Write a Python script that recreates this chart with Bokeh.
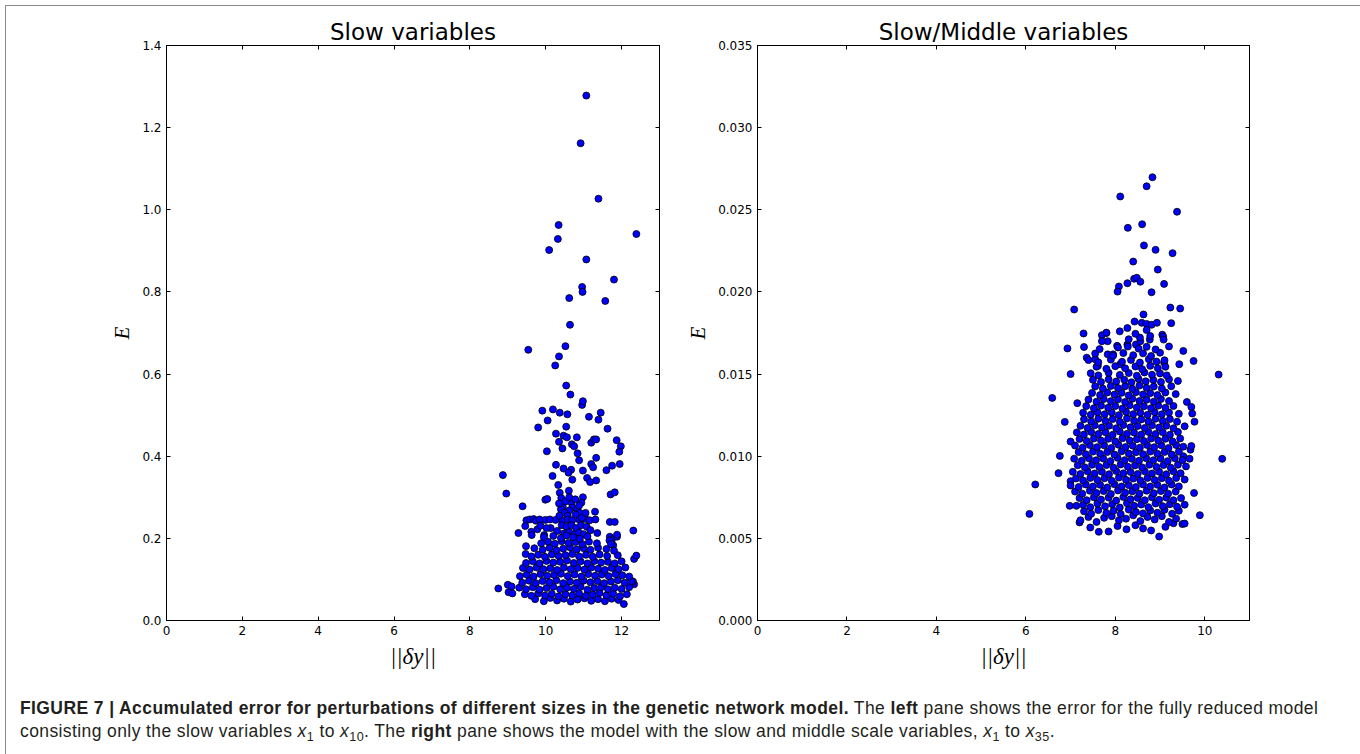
from bokeh.plotting import figure
from bokeh.models import Range1d, FixedTicker, LinearAxis, PrintfTickFormatter, Div, ColumnDataSource
from bokeh.layouts import row, column
from bokeh.embed import file_html
from bokeh.resources import INLINE

# ---------------- data ----------------
LEFT_TITLE = "Slow variables"
RIGHT_TITLE = "Slow/Middle variables"
X_LABEL = "||\u03b4y||"
Y_LABEL = "E"
LEFT_XTICKS = [0, 2, 4, 6, 8, 10, 12]
LEFT_YTICKS = [0.0, 0.2, 0.4, 0.6, 0.8, 1.0, 1.2, 1.4]
RIGHT_XTICKS = [0, 2, 4, 6, 8, 10]
RIGHT_YTICKS = [0.000, 0.005, 0.010, 0.015, 0.020, 0.025, 0.030, 0.035]
LEFT_XRANGE = (0, 13)
LEFT_YRANGE = (0, 1.4)
RIGHT_XRANGE = (0, 11)
RIGHT_YRANGE = (0, 0.035)

# left pane: sparse upper points
LEFT_UPPER = [
    (11.07, 1.278), (10.92, 1.162), (11.39, 1.027), (10.34, 0.963), (12.39, 0.941), (10.32, 0.929),
    (10.09, 0.902), (11.07, 0.879), (11.80, 0.830), (10.96, 0.812), (10.97, 0.800), (10.62, 0.785),
    (11.57, 0.778), (10.64, 0.720), (9.54, 0.659), (10.52, 0.668), (10.35, 0.643), (10.25, 0.621),
    (10.54, 0.572), (10.65, 0.550), (10.96, 0.525), (10.98, 0.534), (9.91, 0.511), (10.19, 0.514),
    (10.37, 0.506), (10.57, 0.502), (10.05, 0.487), (11.14, 0.496), (11.39, 0.489), (11.45, 0.506),
    (9.80, 0.470), (10.54, 0.472), (11.63, 0.467), (10.27, 0.455), (10.47, 0.450), (10.56, 0.446),
    (10.82, 0.446), (10.35, 0.435), (10.69, 0.429), (10.75, 0.424), (11.20, 0.433), (11.27, 0.441),
    (11.33, 0.441), (10.44, 0.419), (11.87, 0.439), (11.98, 0.424), (11.94, 0.411), (10.03, 0.412),
    (10.84, 0.407), (10.88, 0.390), (11.33, 0.396), (11.20, 0.381), (11.25, 0.373), (11.95, 0.381),
    (11.75, 0.377), (11.60, 0.366), (10.27, 0.379), (10.47, 0.370), (10.67, 0.367), (10.60, 0.360),
    (10.98, 0.365), (11.09, 0.347), (11.17, 0.337), (11.33, 0.341), (10.70, 0.343), (10.18, 0.352),
    (8.87, 0.354), (8.96, 0.309), (10.33, 0.330), (10.37, 0.311), (10.61, 0.316), (10.41, 0.298),
    (10.98, 0.300), (10.94, 0.287), (9.99, 0.294), (10.04, 0.296), (11.71, 0.307), (11.82, 0.312),
    (9.39, 0.278), (10.45, 0.277), (10.68, 0.287), (10.70, 0.275), (10.40, 0.271), (10.62, 0.268),
    (10.83, 0.270), (10.90, 0.262), (10.79, 0.258), (11.30, 0.265), (10.50, 0.262), (10.58, 0.255),
    (9.49, 0.244), (9.58, 0.246), (9.68, 0.247), (9.74, 0.243), (9.84, 0.246), (9.99, 0.245),
    (10.11, 0.246), (10.26, 0.245), (10.44, 0.243), (10.58, 0.246), (10.70, 0.244), (10.89, 0.245),
    (11.05, 0.247), (11.16, 0.244), (11.31, 0.246), (9.46, 0.230), (9.28, 0.213), (9.62, 0.216),
    (9.63, 0.208), (9.96, 0.208), (10.13, 0.225), (11.69, 0.240), (11.82, 0.240), (12.31, 0.219),
    (11.36, 0.213), (11.69, 0.204), (11.75, 0.198), (11.88, 0.204), (11.68, 0.195), (11.78, 0.183),
    (9.48, 0.181), (9.47, 0.162), (12.33, 0.150), (12.39, 0.158), (8.75, 0.078), (9.00, 0.087),
    (9.02, 0.069), (9.10, 0.083), (9.12, 0.066), (12.06, 0.040), (12.33, 0.088), (12.30, 0.095),
    (10.35, 0.285), (10.52, 0.290), (10.62, 0.300), (10.78, 0.295), (10.88, 0.280), (10.36, 0.255),
    (10.95, 0.250), (11.05, 0.262), (10.42, 0.232), (10.55, 0.228), (10.68, 0.232), (10.80, 0.225),
    (10.93, 0.232), (11.08, 0.228), (10.30, 0.218), (10.48, 0.212), (10.62, 0.215), (10.75, 0.210),
    (10.88, 0.214), (11.00, 0.210), (11.18, 0.220), (10.02, 0.225), (9.78, 0.222), (9.86, 0.231),
]

# left pane: dense core
LEFT_CORE = [
    (9.72, 0.052), (9.95, 0.047), (10.12, 0.055), (10.30, 0.049), (10.48, 0.053), (10.66, 0.046),
    (10.84, 0.051), (11.02, 0.054), (11.20, 0.048), (11.38, 0.052), (11.56, 0.047), (11.74, 0.053),
    (11.92, 0.050),
    (9.45, 0.064), (9.62, 0.060), (9.80, 0.066), (9.98, 0.061), (10.16, 0.065), (10.34, 0.059),
    (10.52, 0.064), (10.70, 0.061), (10.88, 0.066), (11.06, 0.060), (11.24, 0.063), (11.42, 0.067),
    (11.60, 0.061), (11.78, 0.065), (11.96, 0.059), (12.14, 0.064),
    (9.30, 0.080), (9.48, 0.076), (9.66, 0.081), (9.84, 0.075), (10.02, 0.079), (10.20, 0.082),
    (10.38, 0.076), (10.56, 0.080), (10.74, 0.077), (10.92, 0.082), (11.10, 0.075), (11.28, 0.079),
    (11.46, 0.081), (11.64, 0.076), (11.82, 0.080), (12.00, 0.077), (12.20, 0.081),
    (9.38, 0.092), (9.56, 0.097), (9.74, 0.091), (9.92, 0.096), (10.10, 0.093), (10.28, 0.098),
    (10.46, 0.091), (10.64, 0.095), (10.82, 0.092), (11.00, 0.097), (11.18, 0.093), (11.36, 0.096),
    (11.54, 0.091), (11.72, 0.095), (11.90, 0.098), (12.08, 0.092), (12.26, 0.096),
    (9.32, 0.108), (9.50, 0.112), (9.68, 0.107), (9.86, 0.113), (10.04, 0.109), (10.22, 0.111),
    (10.40, 0.114), (10.58, 0.108), (10.76, 0.112), (10.94, 0.107), (11.12, 0.113), (11.30, 0.109),
    (11.48, 0.112), (11.66, 0.108), (11.84, 0.113), (12.02, 0.110), (12.20, 0.107),
    (9.40, 0.128), (9.58, 0.124), (9.76, 0.129), (9.94, 0.125), (10.12, 0.127), (10.30, 0.123),
    (10.48, 0.129), (10.66, 0.125), (10.84, 0.128), (11.02, 0.124), (11.20, 0.129), (11.38, 0.126),
    (11.56, 0.123), (11.74, 0.128), (11.92, 0.125), (12.10, 0.129),
    (9.48, 0.140), (9.66, 0.144), (9.84, 0.139), (10.02, 0.145), (10.20, 0.141), (10.38, 0.143),
    (10.56, 0.146), (10.74, 0.140), (10.92, 0.144), (11.10, 0.139), (11.28, 0.145), (11.46, 0.141),
    (11.64, 0.143), (11.82, 0.139), (12.00, 0.144),
    (9.62, 0.156), (9.80, 0.160), (9.98, 0.155), (10.16, 0.161), (10.34, 0.157), (10.52, 0.159),
    (10.70, 0.162), (10.88, 0.156), (11.06, 0.160), (11.24, 0.155), (11.42, 0.161), (11.62, 0.157),
    (11.90, 0.159),
    (9.70, 0.176), (9.92, 0.172), (10.10, 0.177), (10.28, 0.171), (10.46, 0.175), (10.64, 0.178),
    (10.82, 0.173), (11.00, 0.176), (11.18, 0.172), (11.38, 0.177), (11.60, 0.174), (11.80, 0.170),
    (9.88, 0.188), (10.06, 0.192), (10.24, 0.187), (10.42, 0.193), (10.60, 0.189), (10.78, 0.191),
    (10.96, 0.186), (11.14, 0.192), (11.35, 0.188), (11.72, 0.186),
    (9.95, 0.203), (10.20, 0.206), (10.40, 0.201), (10.55, 0.207), (10.72, 0.203), (10.90, 0.199),
    (11.10, 0.205), (11.88, 0.209),
]

# right pane: sparse points
RIGHT_SPARSE = [
    (8.83, 0.02698), (8.70, 0.02643), (8.11, 0.02581), (9.38, 0.02488), (8.60, 0.02412), (8.28, 0.02390),
    (8.64, 0.02283), (8.90, 0.02256), (9.28, 0.02236), (8.40, 0.02185), (8.95, 0.02136), (8.42, 0.02080),
    (8.48, 0.02086), (8.27, 0.02053), (8.56, 0.02062), (9.09, 0.02049), (8.08, 0.02033), (8.05, 0.02002),
    (8.81, 0.01998), (7.08, 0.01893), (9.23, 0.01905), (9.45, 0.01899), (8.63, 0.01863), (8.43, 0.01820),
    (8.59, 0.01812), (8.70, 0.01805), (8.81, 0.01800), (8.93, 0.01812), (9.25, 0.01810), (8.27, 0.01780),
    (7.29, 0.01747), (7.80, 0.01750), (7.70, 0.01737), (9.05, 0.01740), (9.07, 0.01728), (6.93, 0.01656),
    (7.83, 0.01700), (8.04, 0.01672), (8.06, 0.01662), (8.27, 0.01680), (8.46, 0.01680), (8.56, 0.01700),
    (8.77, 0.01710), (9.08, 0.01710), (9.52, 0.01641), (9.75, 0.01580), (10.31, 0.01497), (7.00, 0.01500),
    (7.36, 0.01600), (7.55, 0.01590), (7.61, 0.01550), (7.83, 0.01620), (7.95, 0.01620), (8.11, 0.01560),
    (9.43, 0.01560), (9.09, 0.01570), (6.59, 0.01355), (6.21, 0.00828), (6.08, 0.00649), (10.39, 0.00984),
    (9.89, 0.00641), (8.98, 0.00511), (6.76, 0.01002), (6.73, 0.00897), (6.87, 0.01209), (7.00, 0.01089),
    (7.15, 0.01323), (7.00, 0.00848), (7.20, 0.00597), (6.98, 0.00698), (7.13, 0.00698), (9.76, 0.00776),
    (9.60, 0.01330), (9.70, 0.01300), (9.72, 0.01260), (9.77, 0.01210), (9.68, 0.01040), (9.52, 0.01000),
    (9.50, 0.00587), (9.55, 0.00590),
]

# right pane: dense core
RIGHT_CORE = [
    (7.44, 0.00566), (7.63, 0.00540), (7.85, 0.00542), (8.05, 0.00575), (8.25, 0.00555), (8.45, 0.00580),
    (8.62, 0.00560), (8.80, 0.00548), (9.12, 0.00570), (9.30, 0.00592),
    (7.22, 0.00610), (7.40, 0.00630), (7.58, 0.00600), (7.75, 0.00625), (7.92, 0.00635), (8.08, 0.00610),
    (8.24, 0.00620), (8.40, 0.00640), (8.56, 0.00605), (8.72, 0.00630), (8.88, 0.00615), (9.04, 0.00635),
    (9.20, 0.00600), (9.36, 0.00620),
    (7.30, 0.00665), (7.46, 0.00650), (7.62, 0.00672), (7.80, 0.00655), (7.96, 0.00668), (8.12, 0.00648),
    (8.30, 0.00675), (8.46, 0.00660), (8.62, 0.00652), (8.78, 0.00670), (8.94, 0.00656), (9.10, 0.00674),
    (9.27, 0.00650), (9.42, 0.00668),
    (7.28, 0.00705), (7.44, 0.00690), (7.60, 0.00712), (7.77, 0.00695), (7.93, 0.00708), (8.10, 0.00688),
    (8.26, 0.00714), (8.42, 0.00698), (8.58, 0.00706), (8.74, 0.00690), (8.90, 0.00712), (9.06, 0.00696),
    (9.22, 0.00708), (9.38, 0.00692), (9.55, 0.00705),
    (7.20, 0.00745), (7.36, 0.00732), (7.52, 0.00750), (7.68, 0.00736), (7.85, 0.00748), (8.02, 0.00730),
    (8.18, 0.00752), (8.34, 0.00738), (8.50, 0.00746), (8.66, 0.00732), (8.82, 0.00750), (8.98, 0.00735),
    (9.14, 0.00748), (9.30, 0.00732), (9.47, 0.00745),
    (7.10, 0.00785), (7.26, 0.00772), (7.43, 0.00790), (7.58, 0.00776), (7.74, 0.00788), (7.90, 0.00770),
    (8.06, 0.00792), (8.22, 0.00778), (8.38, 0.00786), (8.54, 0.00772), (8.70, 0.00790), (8.86, 0.00775),
    (9.02, 0.00788), (9.18, 0.00772), (9.35, 0.00785),
    (7.00, 0.00822), (7.18, 0.00812), (7.34, 0.00828), (7.50, 0.00815), (7.66, 0.00826), (7.82, 0.00810),
    (7.98, 0.00830), (8.14, 0.00816), (8.30, 0.00824), (8.46, 0.00812), (8.62, 0.00828), (8.78, 0.00815),
    (8.94, 0.00826), (9.10, 0.00810), (9.26, 0.00828), (9.42, 0.00816),
    (7.12, 0.00865), (7.28, 0.00852), (7.44, 0.00868), (7.60, 0.00855), (7.76, 0.00866), (7.92, 0.00850),
    (8.08, 0.00870), (8.24, 0.00856), (8.40, 0.00864), (8.56, 0.00852), (8.72, 0.00868), (8.88, 0.00855),
    (9.04, 0.00866), (9.20, 0.00850), (9.36, 0.00868), (9.55, 0.00858),
    (7.05, 0.00905), (7.22, 0.00892), (7.38, 0.00908), (7.54, 0.00895), (7.70, 0.00906), (7.86, 0.00890),
    (8.02, 0.00910), (8.18, 0.00896), (8.34, 0.00904), (8.50, 0.00892), (8.66, 0.00908), (8.82, 0.00895),
    (8.98, 0.00906), (9.14, 0.00890), (9.30, 0.00908), (9.46, 0.00896),
    (7.16, 0.00945), (7.32, 0.00932), (7.48, 0.00948), (7.64, 0.00935), (7.80, 0.00946), (7.96, 0.00930),
    (8.12, 0.00950), (8.28, 0.00936), (8.44, 0.00944), (8.60, 0.00932), (8.76, 0.00948), (8.92, 0.00935),
    (9.08, 0.00946), (9.24, 0.00930), (9.40, 0.00948), (9.58, 0.00938),
    (7.08, 0.00985), (7.25, 0.00972), (7.41, 0.00988), (7.57, 0.00975), (7.73, 0.00986), (7.89, 0.00970),
    (8.05, 0.00990), (8.21, 0.00976), (8.37, 0.00984), (8.53, 0.00972), (8.69, 0.00988), (8.85, 0.00975),
    (9.01, 0.00986), (9.17, 0.00970), (9.33, 0.00988), (9.50, 0.00976), (9.66, 0.00985),
    (7.18, 0.01025), (7.34, 0.01012), (7.50, 0.01028), (7.66, 0.01015), (7.82, 0.01026), (7.98, 0.01010),
    (8.14, 0.01030), (8.30, 0.01016), (8.46, 0.01024), (8.62, 0.01012), (8.78, 0.01028), (8.94, 0.01015),
    (9.10, 0.01026), (9.26, 0.01010), (9.42, 0.01028),
    (7.10, 0.01065), (7.27, 0.01052), (7.43, 0.01068), (7.59, 0.01055), (7.75, 0.01066), (7.91, 0.01050),
    (8.07, 0.01070), (8.23, 0.01056), (8.39, 0.01064), (8.55, 0.01052), (8.71, 0.01068), (8.87, 0.01055),
    (9.03, 0.01066), (9.19, 0.01050), (9.36, 0.01068), (9.52, 0.01058), (9.70, 0.01062),
    (7.20, 0.01105), (7.36, 0.01092), (7.52, 0.01108), (7.68, 0.01095), (7.84, 0.01106), (8.00, 0.01090),
    (8.16, 0.01110), (8.32, 0.01096), (8.48, 0.01104), (8.64, 0.01092), (8.80, 0.01108), (8.96, 0.01095),
    (9.12, 0.01106), (9.28, 0.01090), (9.45, 0.01108),
    (7.14, 0.01145), (7.30, 0.01132), (7.46, 0.01148), (7.62, 0.01135), (7.78, 0.01146), (7.94, 0.01130),
    (8.10, 0.01150), (8.26, 0.01136), (8.42, 0.01144), (8.58, 0.01132), (8.74, 0.01148), (8.90, 0.01135),
    (9.06, 0.01146), (9.22, 0.01130), (9.40, 0.01148),
    (7.22, 0.01185), (7.38, 0.01172), (7.54, 0.01188), (7.70, 0.01175), (7.86, 0.01186), (8.02, 0.01170),
    (8.18, 0.01190), (8.34, 0.01176), (8.50, 0.01184), (8.66, 0.01172), (8.82, 0.01188), (8.98, 0.01175),
    (9.14, 0.01186), (9.30, 0.01170), (9.55, 0.01182),
    (7.30, 0.01225), (7.46, 0.01212), (7.62, 0.01228), (7.78, 0.01215), (7.94, 0.01226), (8.10, 0.01210),
    (8.26, 0.01230), (8.42, 0.01216), (8.58, 0.01224), (8.74, 0.01212), (8.90, 0.01228), (9.06, 0.01215),
    (9.22, 0.01226), (9.38, 0.01210),
    (7.28, 0.01265), (7.45, 0.01252), (7.60, 0.01268), (7.76, 0.01255), (7.92, 0.01266), (8.08, 0.01250),
    (8.24, 0.01270), (8.40, 0.01256), (8.56, 0.01264), (8.72, 0.01252), (8.88, 0.01268), (9.04, 0.01255),
    (9.20, 0.01266), (9.42, 0.01258),
    (7.35, 0.01305), (7.52, 0.01292), (7.68, 0.01308), (7.84, 0.01295), (8.00, 0.01306), (8.16, 0.01290),
    (8.32, 0.01310), (8.48, 0.01296), (8.64, 0.01304), (8.80, 0.01292), (8.96, 0.01308), (9.12, 0.01295),
    (9.30, 0.01306),
    (7.40, 0.01345), (7.58, 0.01332), (7.74, 0.01348), (7.90, 0.01335), (8.06, 0.01346), (8.22, 0.01330),
    (8.38, 0.01350), (8.54, 0.01336), (8.70, 0.01344), (8.86, 0.01332), (9.02, 0.01348), (9.20, 0.01336),
    (7.48, 0.01385), (7.66, 0.01372), (7.82, 0.01388), (7.98, 0.01375), (8.14, 0.01386), (8.30, 0.01370),
    (8.46, 0.01390), (8.62, 0.01376), (8.78, 0.01384), (8.94, 0.01372), (9.12, 0.01388), (9.35, 0.01378),
    (7.55, 0.01425), (7.72, 0.01412), (7.90, 0.01428), (8.06, 0.01415), (8.22, 0.01426), (8.38, 0.01410),
    (8.54, 0.01430), (8.70, 0.01416), (8.86, 0.01424), (9.04, 0.01412), (9.25, 0.01426),
    (7.50, 0.01465), (7.68, 0.01452), (7.85, 0.01468), (8.02, 0.01455), (8.20, 0.01466), (8.36, 0.01450),
    (8.52, 0.01470), (8.68, 0.01456), (8.85, 0.01464), (9.02, 0.01452), (9.20, 0.01468), (9.40, 0.01458),
    (7.45, 0.01505), (7.62, 0.01492), (7.85, 0.01508), (8.10, 0.01495), (8.30, 0.01506), (8.48, 0.01490),
    (8.65, 0.01510), (8.82, 0.01496), (9.00, 0.01504), (9.15, 0.01492),
    (7.58, 0.01545), (7.80, 0.01532), (8.00, 0.01548), (8.22, 0.01535), (8.45, 0.01546), (8.60, 0.01530),
    (8.78, 0.01550), (8.95, 0.01536), (9.12, 0.01544),
    (7.40, 0.01585), (7.62, 0.01572), (7.90, 0.01588), (8.15, 0.01575), (8.35, 0.01586), (8.55, 0.01570),
    (8.75, 0.01590), (8.92, 0.01576), (9.10, 0.01584),
    (7.55, 0.01625), (7.95, 0.01612), (8.18, 0.01628), (8.40, 0.01615), (8.62, 0.01626), (8.80, 0.01610),
    (9.00, 0.01630),
    (7.30, 0.01665), (7.65, 0.01652), (8.28, 0.01668), (8.52, 0.01655), (8.70, 0.01666), (8.90, 0.01650),
    (9.20, 0.01668),
    (7.70, 0.01700), (8.30, 0.01712), (8.55, 0.01722), (8.78, 0.01732), (7.80, 0.01752), (8.10, 0.01760),
    (8.45, 0.01745), (8.70, 0.01768),
]

CAPTION_LINE1 = ("<b>FIGURE 7 | Accumulated error for perturbations of different sizes in the genetic "
                 "network model.</b> The <b>left</b> pane shows the error for the fully reduced model")
CAPTION_LINE2 = ("consisting only the slow variables <i>x</i><sub>1</sub> to <i>x</i><sub>10</sub>. "
                 "The <b>right</b> pane shows the model with the slow and middle scale variables, "
                 "<i>x</i><sub>1</sub> to <i>x</i><sub>35</sub>.")

FIG_H = 676


def make_panel(title, pts, xr, yr, xticks, yticks, yfmt, width, bl, br):
    p = figure(width=width, height=FIG_H, x_range=Range1d(*xr), y_range=Range1d(*yr),
               output_backend="svg", toolbar_location=None, title=title,
               min_border_left=bl, min_border_right=br, min_border_top=39,
               min_border_bottom=FIG_H - 39 - 575)
    p.title.align = "center"
    p.title.text_font = "DejaVu Sans"
    p.title.text_font_size = "23px"
    p.title.text_font_style = "normal"
    p.title.text_color = "black"
    p.title.standoff = 2
    p.grid.visible = False
    p.outline_line_color = "black"
    p.outline_line_width = 1
    p.outline_line_alpha = 1
    p.background_fill_color = "white"
    p.border_fill_color = "white"

    bottom = p.below[0]
    left = p.left[0]
    top = LinearAxis()
    right = LinearAxis()
    p.add_layout(top, "above")
    p.add_layout(right, "right")

    for ax, ticks in ((bottom, xticks), (top, xticks), (left, yticks), (right, yticks)):
        ax.ticker = FixedTicker(ticks=ticks)
        ax.major_tick_in = 4
        ax.major_tick_out = 0
        ax.minor_tick_in = 0
        ax.minor_tick_out = 0
        ax.major_tick_line_color = "black"
        ax.axis_line_color = "black"
        ax.major_label_text_font = "DejaVu Sans"
        ax.major_label_text_font_size = "12px"
        ax.major_label_text_color = "black"
        ax.major_label_standoff = 5
    for ax in (top, right):
        ax.major_label_text_font_size = "0px"
        ax.major_label_standoff = 0
    top.major_label_overrides = {t: "" for t in xticks}
    right.major_label_overrides = {t: "" for t in yticks}

    left.formatter = PrintfTickFormatter(format=yfmt)
    bottom.formatter = PrintfTickFormatter(format="%d")

    left.axis_label = Y_LABEL
    left.axis_label_text_font = "Liberation Serif"
    left.axis_label_text_font_style = "italic"
    left.axis_label_text_font_size = "21px"
    left.axis_label_text_color = "black"
    left.axis_label_standoff = 5

    bottom.axis_label = X_LABEL
    bottom.axis_label_text_font = "Liberation Serif"
    bottom.axis_label_text_font_style = "italic"
    bottom.axis_label_text_font_size = "23px"
    bottom.axis_label_text_color = "black"
    bottom.axis_label_standoff = 6

    src = ColumnDataSource(data=dict(x=[q[0] for q in pts], y=[q[1] for q in pts]))
    p.scatter("x", "y", source=src, size=7, fill_color="#0000ff",
              line_color="black", line_width=0.8)
    return p


p1 = make_panel(LEFT_TITLE, LEFT_UPPER + LEFT_CORE, LEFT_XRANGE, LEFT_YRANGE,
                LEFT_XTICKS, LEFT_YTICKS, "%.1f", 674, 160, 21)
p2 = make_panel(RIGHT_TITLE, RIGHT_SPARSE + RIGHT_CORE, RIGHT_XRANGE, RIGHT_YRANGE,
                RIGHT_XTICKS, RIGHT_YTICKS, "%.3f", 674, 77, 105)

cap_html = (
    "<div style='padding:10px 0 0 9px; font-family:\"Liberation Sans\", Arial, sans-serif; "
    "font-size:17.5px; letter-spacing:0.4px; line-height:23px; color:#231f20; white-space:nowrap;'>"
    + CAPTION_LINE1 + "<br>" + CAPTION_LINE2.replace(
        "<sub>", "<sub style='font-size:0.72em; line-height:0; vertical-align:-0.3em;'>")
    + "</div>"
)
cap = Div(text=cap_html, width=1348, height=67)

layout = column(row(p1, p2), cap, margin=(5, 0, 0, 5),
                styles={"border": "1px solid #8a8a8a"})

open("out.html", "w").write(file_html(layout, INLINE, title="Figure 7"))
